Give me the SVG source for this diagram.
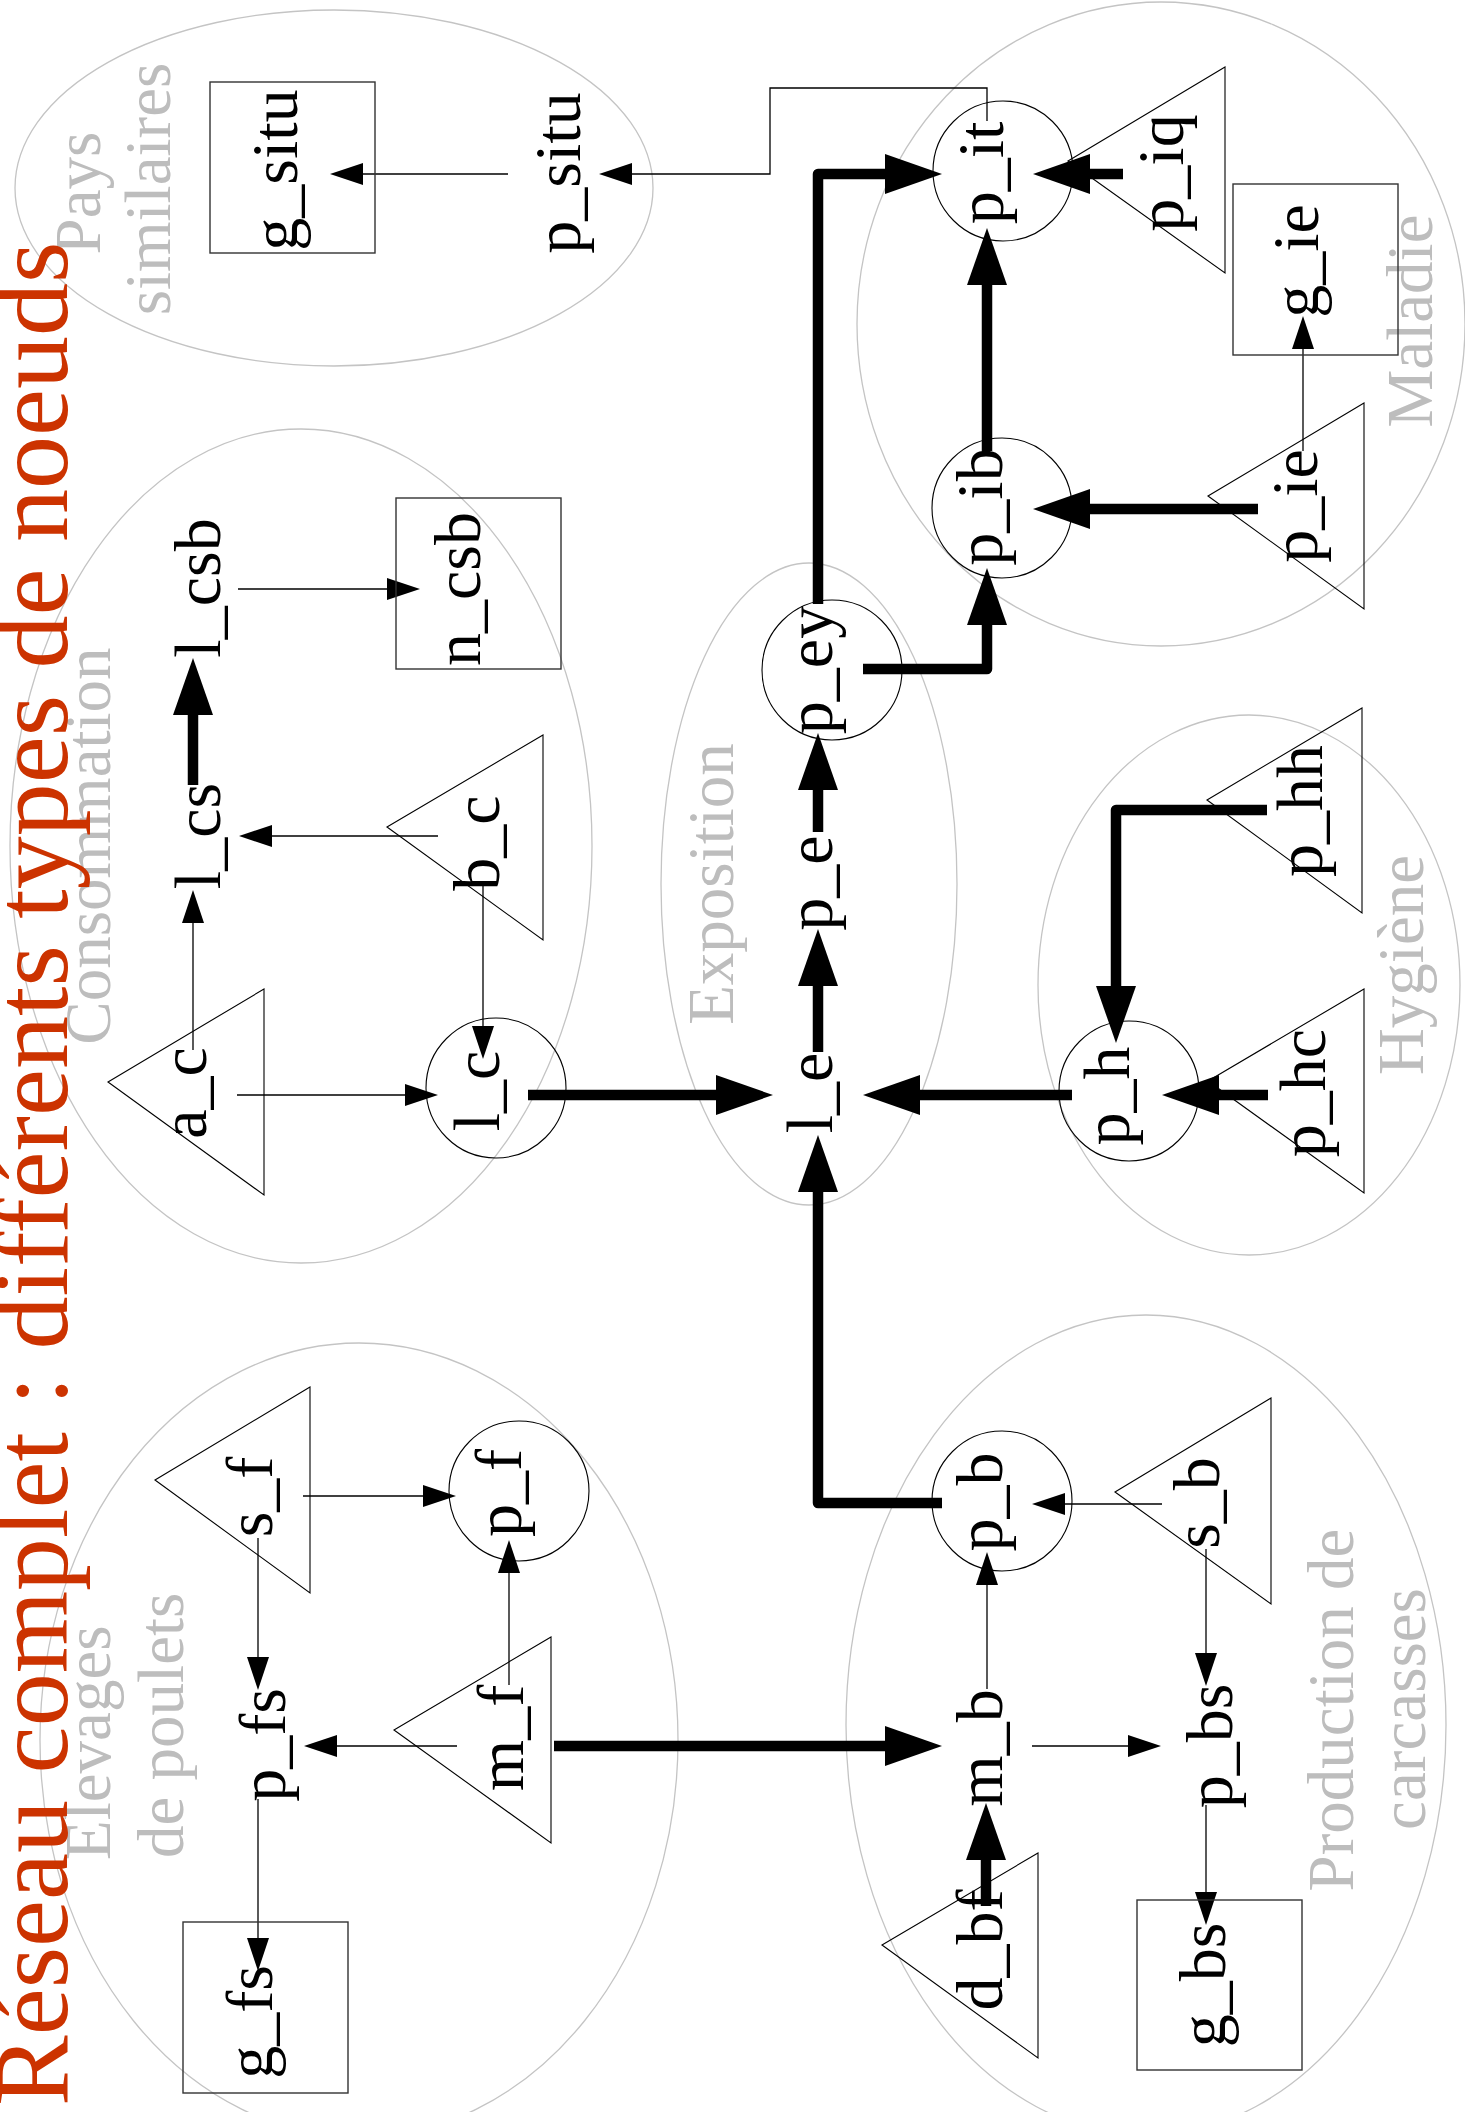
<svg xmlns="http://www.w3.org/2000/svg" width="1465" height="2112" viewBox="0 0 1465 2112">
  <style>
    .cl { fill: none; stroke: #c4c4c4; stroke-width: 1.3; }
    .cl-t { font-family: "Liberation Serif", "Times New Roman", serif; font-size: 65px; fill: #bdbdbd; }
    .sh { fill: none; stroke: #000; stroke-width: 1.1; }
    .bx { fill: none; stroke: #333; stroke-width: 1.4; }
    .t { font-family: "Liberation Serif", "Times New Roman", serif; font-size: 66px; fill: #000; text-anchor: middle; }
    .thin { fill: none; stroke: #000; stroke-width: 1.3; marker-end: url(#ah); }
    .thick { fill: none; stroke: #000; stroke-width: 10.5; stroke-linejoin: round; marker-end: url(#AH); }
    .title { font-family: "Liberation Serif", "Times New Roman", serif; font-size: 106px; fill: #cc3300; }
  </style>
  <defs>
    <marker id="ah" markerUnits="userSpaceOnUse" markerWidth="34" markerHeight="24" refX="0" refY="11" orient="auto" overflow="visible">
      <path d="M0,0 L33,11 L0,22 z" fill="#000"/>
    </marker>
    <marker id="AH" markerUnits="userSpaceOnUse" markerWidth="60" markerHeight="42" refX="0" refY="20" orient="auto" overflow="visible">
      <path d="M0,0 L57,20 L0,40 z" fill="#000"/>
    </marker>
  </defs>

  <rect width="1465" height="2112" fill="#fff"/>

  <!-- cluster outlines and their captions -->
  <g id="clusters">
    <g id="cl-pays">
      <ellipse class="cl" cx="334" cy="188" rx="319" ry="178"/>
      <text class="cl-t" text-anchor="middle" transform="translate(100,193) rotate(-90)">Pays</text>
      <text class="cl-t" text-anchor="middle" transform="translate(170,189) rotate(-90)">similaires</text>
    </g>
    <g id="cl-conso">
      <ellipse class="cl" cx="301" cy="846" rx="291" ry="417"/>
      <text class="cl-t" text-anchor="middle" transform="translate(110,846) rotate(-90)">Consommation</text>
    </g>
    <g id="cl-expo">
      <ellipse class="cl" cx="809" cy="884" rx="148" ry="321"/>
      <text class="cl-t" text-anchor="middle" transform="translate(733,884) rotate(-90)">Exposition</text>
    </g>
    <g id="cl-maladie">
      <ellipse class="cl" cx="1161" cy="324" rx="304" ry="322"/>
      <text class="cl-t" text-anchor="middle" transform="translate(1432,321) rotate(-90)">Maladie</text>
    </g>
    <g id="cl-hygiene">
      <ellipse class="cl" cx="1249" cy="985" rx="211" ry="270"/>
      <text class="cl-t" text-anchor="middle" transform="translate(1423,965) rotate(-90)">Hygiène</text>
    </g>
    <g id="cl-elevages">
      <ellipse class="cl" cx="359" cy="1740" rx="319" ry="397"/>
      <text class="cl-t" text-anchor="start" transform="translate(110,1860) rotate(-90)">Elevages</text>
      <text class="cl-t" text-anchor="start" transform="translate(183,1858) rotate(-90)">de poulets</text>
    </g>
    <g id="cl-production">
      <ellipse class="cl" cx="1146" cy="1725" rx="300" ry="410"/>
      <text class="cl-t" text-anchor="middle" transform="translate(1353,1710) rotate(-90)">Production de</text>
      <text class="cl-t" text-anchor="middle" transform="translate(1425,1709) rotate(-90)">carcasses</text>
    </g>
  </g>

  <!-- title -->
  <text id="title" class="title" transform="translate(67,2106) rotate(-90)">Réseau complet : différents types de noeuds</text>

  <!-- connectors -->
  <g id="connectors">
    <!-- thin links -->
    <path class="thin" d="M508,174 H363"/>
    <path class="thin" d="M987,121 V88 H770 V174 H632"/>
    <path class="thin" d="M238,589 H387"/>
    <path class="thin" d="M193,1050 V923"/>
    <path class="thin" d="M438,836 H272"/>
    <path class="thin" d="M483,884 V1026"/>
    <path class="thin" d="M237,1095 H405"/>
    <path class="thin" d="M1303,451 V349"/>
    <path class="thin" d="M303,1496 H423"/>
    <path class="thin" d="M258,1538 V1657"/>
    <path class="thin" d="M509,1685 V1573"/>
    <path class="thin" d="M457,1746 H337"/>
    <path class="thin" d="M258,1799 V1938"/>
    <path class="thin" d="M1162,1504 H1065"/>
    <path class="thin" d="M1206,1549 V1653"/>
    <path class="thin" d="M1032,1746 H1128"/>
    <path class="thin" d="M1206,1805 V1892"/>
    <path class="thin" d="M987,1689 V1585"/>
    <!-- thick links -->
    <path class="thick" d="M193,785 V715"/>
    <path class="thick" d="M818,604 V174 H885"/>
    <path class="thick" d="M1123,174 H1090"/>
    <path class="thick" d="M987,451 V285"/>
    <path class="thick" d="M1258,509 H1090"/>
    <path class="thick" d="M863,669 H987 V625"/>
    <path class="thick" d="M528,1095 H716"/>
    <path class="thick" d="M818,1052 V986"/>
    <path class="thick" d="M818,832 V790"/>
    <path class="thick" d="M1072,1095 H920"/>
    <path class="thick" d="M942,1503 H818 V1192"/>
    <path class="thick" d="M1267,810 H1116 V986"/>
    <path class="thick" d="M1268,1095 H1219"/>
    <path class="thick" d="M554,1746 H885"/>
    <path class="thick" d="M986,1906 V1860"/>
  </g>

  <!-- nodes -->
  <g id="g_situ"><rect class="bx" x="210" y="82" width="165" height="171"/><text class="t" transform="translate(297,170) rotate(-90)">g_situ</text></g>
  <g id="p_situ"><text class="t" transform="translate(580,173) rotate(-90)">p_situ</text></g>

  <g id="a_c"><polygon class="sh" points="108,1082 264,989 264,1195"/><text class="t" transform="translate(206,1093) rotate(-90)">a_c</text></g>
  <g id="l_cs"><text class="t" transform="translate(220,836) rotate(-90)">l_cs</text></g>
  <g id="l_csb"><text class="t" transform="translate(220,588) rotate(-90)">l_csb</text></g>
  <g id="b_c"><polygon class="sh" points="387,827 543,735 543,940"/><text class="t" transform="translate(499,843) rotate(-90)">b_c</text></g>
  <g id="l_c"><circle class="sh" cx="496" cy="1088" r="70"/><text class="t" transform="translate(499,1091) rotate(-90)">l_c</text></g>
  <g id="n_csb"><rect class="bx" x="396" y="498" width="165" height="171"/><text class="t" transform="translate(480,589) rotate(-90)">n_csb</text></g>

  <g id="l_e"><text class="t" transform="translate(832,1093) rotate(-90)">l_e</text></g>
  <g id="p_e"><text class="t" transform="translate(832,883) rotate(-90)">p_e</text></g>
  <g id="p_ey"><circle class="sh" cx="832" cy="670" r="70"/><text class="t" transform="translate(832,670) rotate(-90)">p_ey</text></g>

  <g id="p_it"><circle class="sh" cx="1003" cy="171" r="70"/><text class="t" transform="translate(1003,173) rotate(-90)">p_it</text></g>
  <g id="p_iq"><polygon class="sh" points="1068,161 1225,67 1225,273"/><text class="t" transform="translate(1183,173) rotate(-90)">p_iq</text></g>
  <g id="g_ie"><rect class="bx" x="1233" y="184" width="165" height="171"/><text class="t" transform="translate(1318,261) rotate(-90)">g_ie</text></g>
  <g id="p_ib"><circle class="sh" cx="1002" cy="508" r="70"/><text class="t" transform="translate(1002,507) rotate(-90)">p_ib</text></g>
  <g id="p_ie"><polygon class="sh" points="1208,496 1364,403 1364,609"/><text class="t" transform="translate(1317,506) rotate(-90)">p_ie</text></g>

  <g id="p_h"><circle class="sh" cx="1129" cy="1091" r="70"/><text class="t" transform="translate(1129,1096) rotate(-90)">p_h</text></g>
  <g id="p_hh"><polygon class="sh" points="1207,800 1362,708 1362,913"/><text class="t" transform="translate(1322,811) rotate(-90)">p_hh</text></g>
  <g id="p_hc"><polygon class="sh" points="1208,1081 1364,989 1364,1193"/><text class="t" transform="translate(1325,1093) rotate(-90)">p_hc</text></g>

  <g id="s_f"><polygon class="sh" points="155,1480 310,1387 310,1593"/><text class="t" transform="translate(272,1497) rotate(-90)">s_f</text></g>
  <g id="p_f"><circle class="sh" cx="519" cy="1491" r="70"/><text class="t" transform="translate(521,1493) rotate(-90)">p_f</text></g>
  <g id="p_fs"><text class="t" transform="translate(285,1745) rotate(-90)">p_fs</text></g>
  <g id="m_f"><polygon class="sh" points="394,1730 551,1637 551,1843"/><text class="t" transform="translate(523,1738) rotate(-90)">m_f</text></g>
  <g id="g_fs"><rect class="bx" x="183" y="1922" width="165" height="171"/><text class="t" transform="translate(272,2022) rotate(-90)">g_fs</text></g>

  <g id="p_b"><circle class="sh" cx="1002" cy="1501" r="70"/><text class="t" transform="translate(1002,1502) rotate(-90)">p_b</text></g>
  <g id="s_b"><polygon class="sh" points="1115,1492 1271,1398 1271,1604"/><text class="t" transform="translate(1219,1503) rotate(-90)">s_b</text></g>
  <g id="m_b"><text class="t" transform="translate(1002,1748) rotate(-90)">m_b</text></g>
  <g id="p_bs"><text class="t" transform="translate(1232,1746) rotate(-90)">p_bs</text></g>
  <g id="d_bf"><polygon class="sh" points="882,1945 1038,1853 1038,2058"/><text class="t" transform="translate(1002,1950) rotate(-90)">d_bf</text></g>
  <g id="g_bs"><rect class="bx" x="1137" y="1900" width="165" height="170"/><text class="t" transform="translate(1225,1985) rotate(-90)">g_bs</text></g>
</svg>
